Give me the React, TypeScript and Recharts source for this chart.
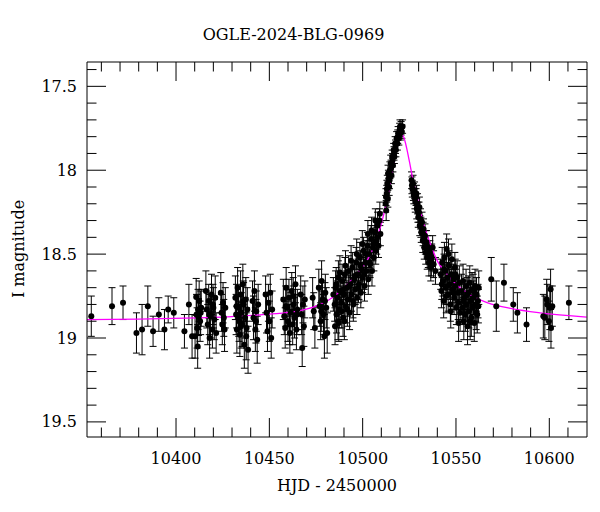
import React from 'react'
import { ComposedChart, Scatter, Line, XAxis, YAxis, ErrorBar } from 'recharts'

const FONT = '"DejaVu Serif", serif'

const hjd = [
  10354.6, 10365.7, 10371.6, 10378.8, 10381.8, 10384.9, 10387.7, 10390.8, 10393.8, 10395.8, 10398.8, 10404.5, 10406.9, 10408.6,
  10410.2, 10410.8, 10411.0, 10411.3, 10411.6, 10412.0, 10412.4, 10412.9, 10413.2, 10413.5,
  10416.0, 10416.5, 10417.0, 10417.5, 10418.0, 10418.5, 10419.0, 10419.5, 10420.0, 10420.5, 10421.0, 10421.5,
  10424.0, 10424.4, 10424.8, 10425.2, 10425.6, 10426.0, 10426.4,
  10431.8, 10432.2, 10432.6, 10433.0, 10433.4, 10433.8, 10434.2, 10434.6, 10435.0, 10435.4, 10435.8, 10436.2, 10436.6, 10437.0, 10437.4, 10437.8, 10438.2, 10438.6,
  10441.0, 10441.5, 10442.0, 10442.5, 10443.0, 10443.5, 10444.0,
  10448.0, 10448.5, 10449.0, 10449.5, 10450.0, 10450.5, 10451.0, 10451.5,
  10457.5, 10458.0, 10458.5, 10459.0, 10459.5, 10460.0, 10460.5, 10461.0, 10461.5, 10462.0, 10462.5, 10463.0, 10463.5, 10464.0, 10464.5, 10465.0,
  10466.8, 10467.3, 10467.6, 10468.0, 10468.5, 10469.0, 10473.2, 10473.8, 10474.4,
  10476.5, 10477.0, 10477.5, 10478.0, 10478.5, 10479.0, 10479.5, 10480.0, 10480.5, 10481.0,
  10485.0, 10485.2, 10485.5, 10486.0, 10486.5, 10487.0, 10487.2, 10487.5, 10488.0, 10488.5,
  10489.0, 10489.5, 10490.0, 10490.2, 10490.5, 10491.0, 10491.5, 10492.0, 10492.5, 10493.0,
  10493.5, 10494.0, 10494.5, 10495.0, 10495.5, 10496.0, 10496.5, 10497.0, 10497.5, 10498.0,
  10498.5, 10499.0, 10499.5, 10500.0, 10500.5, 10501.0, 10501.5, 10502.0, 10502.5, 10503.0,
  10503.5, 10504.0, 10504.5, 10505.0, 10505.5, 10506.0, 10506.5, 10507.0, 10507.5, 10508.0,
  10508.5, 10509.0, 10509.5,
  10512.3, 10512.6, 10512.9, 10513.2, 10513.5, 10513.8, 10514.2, 10514.6, 10515.0, 10515.4,
  10515.8, 10516.2, 10516.6, 10517.0, 10517.4, 10517.8, 10518.2, 10518.6, 10519.0, 10519.4,
  10519.8, 10520.2, 10520.6, 10521.0, 10521.4,
  10526.2, 10526.6, 10527.0, 10527.4, 10527.8, 10528.2, 10528.6, 10529.0, 10529.4, 10529.8,
  10530.2, 10530.6, 10531.0, 10531.4, 10531.8, 10532.2, 10532.6, 10533.0, 10533.4, 10533.8,
  10534.2, 10534.6, 10535.0, 10535.5, 10536.0, 10536.5, 10537.0, 10537.5, 10538.0,
  10541.8, 10542.2, 10542.6, 10543.0, 10543.4, 10543.8, 10544.2, 10544.6, 10545.0, 10545.4,
  10545.8, 10546.2, 10546.6, 10547.0, 10547.4, 10547.8, 10548.2, 10548.6, 10549.0, 10549.4,
  10549.8, 10550.2, 10550.6, 10551.0, 10551.4, 10551.8, 10552.2,
  10553.0, 10553.4, 10553.8, 10554.2, 10554.6, 10555.0, 10555.4, 10555.8, 10556.2, 10556.6, 10557.0, 10557.4,
  10557.8, 10558.2, 10558.6, 10559.0, 10559.4, 10559.8, 10560.2, 10560.6, 10561.0, 10561.4, 10561.8, 10562.2,
  10568.9, 10571.6, 10575.7, 10580.7, 10582.9, 10587.8,
  10596.8, 10597.6, 10598.6, 10598.9, 10599.8, 10600.3, 10600.7, 10600.9, 10601.6, 10610.5,
  // denser parts of the season
  10484.3, 10485.8, 10486.8, 10487.8, 10488.8, 10489.8, 10490.8, 10491.8, 10492.8, 10493.8, 10494.8, 10495.8, 10496.8,
  10497.8, 10498.8, 10499.8, 10500.8, 10501.8, 10502.8, 10503.8, 10504.8, 10505.8, 10506.8, 10507.8, 10509.2,
  10512.5, 10513.0, 10513.6, 10514.4, 10515.2, 10516.0, 10516.8, 10517.6, 10518.8, 10520.0,
  10526.4, 10527.2, 10528.0, 10528.8, 10529.6, 10530.4, 10531.2, 10532.4, 10533.6, 10535.2, 10536.8, 10539.0,
  10542.4, 10543.6, 10544.8, 10546.0, 10547.2, 10548.4, 10549.6, 10551.2, 10554.0, 10556.0, 10557.6, 10559.2, 10560.8, 10562.0,
  10432.4, 10433.6, 10434.8, 10436.0, 10437.6, 10411.8, 10417.8, 10419.8, 10458.8, 10460.8, 10462.8, 10464.8, 10477.8, 10479.8, 10442.8,
]

const mag = [
  18.87, 18.81, 18.79, 18.97, 18.95, 18.81, 18.96, 18.86, 18.95, 18.83, 18.85, 18.96, 18.80, 18.99,
  18.99, 18.755, 18.86, 18.94, 19.05, 18.875, 18.78, 18.90, 18.85, 18.82,
  18.72, 18.83, 18.92, 18.78, 19.00, 18.87, 18.74, 18.95, 18.82, 18.89, 18.76, 18.97,
  18.73, 18.85, 18.92, 18.79, 18.88, 18.95, 18.82,
  18.76, 18.86, 18.95, 18.70, 18.82, 18.90, 18.98, 18.74, 18.85, 18.92, 18.68, 18.80, 19.04, 18.88, 18.77, 18.94, 18.83, 19.07,
  18.78, 18.88, 18.72, 18.95, 18.84, 19.01, 18.80,
  18.74, 18.85, 18.96, 18.79, 18.90, 18.73, 19.00, 18.83,
  18.77, 18.87, 18.94, 18.70, 18.82, 18.90, 18.76, 18.97, 18.85, 18.72, 18.92, 18.80, 18.88, 18.68, 18.95, 18.83,
  18.74, 18.86, 19.06, 18.80, 18.93, 18.77, 18.76, 18.84, 18.94,
  18.70, 18.81, 18.90, 18.66, 18.77, 18.86, 18.99, 18.73, 18.82, 18.97,
  18.80, 18.93, 18.70, 18.86, 18.76, 18.64, 18.91, 18.83, 18.72, 18.79,
  18.66, 18.88, 18.74, 18.90, 18.62, 18.81, 18.70, 18.77, 18.60, 18.85,
  18.68, 18.74, 18.58, 18.80, 18.65, 18.71, 18.55, 18.76, 18.62, 18.68,
  18.52, 18.73, 18.59, 18.64, 18.48, 18.69, 18.55, 18.60, 18.45, 18.65,
  18.50, 18.56, 18.41, 18.60, 18.46, 18.52, 18.37, 18.48, 18.42, 18.33,
  18.45, 18.30, 18.38,
  18.20, 18.24, 18.14, 18.08, 18.17, 18.05, 18.10, 18.00, 17.96, 18.03,
  17.92, 17.97, 17.88, 17.92, 17.84, 17.88, 17.81, 17.84, 17.78, 17.81,
  17.76, 17.78, 17.75, 17.77, 17.74,
  18.06, 18.11, 18.08, 18.15, 18.12, 18.19, 18.16, 18.23, 18.20, 18.28,
  18.25, 18.33, 18.29, 18.37, 18.31, 18.42, 18.35, 18.46, 18.39, 18.49,
  18.43, 18.52, 18.46, 18.55, 18.49, 18.58, 18.52, 18.46, 18.56,
  18.62, 18.72, 18.55, 18.66, 18.78, 18.52, 18.60, 18.70, 18.47, 18.64,
  18.74, 18.57, 18.68, 18.80, 18.62, 18.53, 18.71, 18.65, 18.76, 18.58,
  18.69, 18.82, 18.64, 18.73, 18.91, 18.67, 18.85,
  18.72, 18.82, 18.66, 18.90, 18.76, 18.86, 18.69, 18.80, 18.93, 18.73, 18.84, 18.67,
  18.78, 18.88, 18.71, 18.82, 18.76, 18.91, 18.69, 18.80, 18.74, 18.86, 18.78, 18.70,
  18.65, 18.81, 18.67, 18.80, 18.85, 18.92,
  18.87, 18.88, 18.77, 18.80, 18.90, 18.82, 18.71, 18.94, 18.81, 18.79,
  18.74, 18.68, 18.90, 18.61, 18.84, 18.71, 18.57, 18.83, 18.69, 18.54, 18.78, 18.63, 18.50,
  18.70, 18.57, 18.44, 18.62, 18.50, 18.38, 18.55, 18.36, 18.44, 18.30, 18.40, 18.26,
  18.16, 18.11, 18.02, 18.06, 17.99, 17.94, 17.90, 17.86, 17.80, 17.74,
  18.09, 18.13, 18.17, 18.14, 18.25, 18.22, 18.34, 18.38, 18.43, 18.51, 18.55, 18.60,
  18.68, 18.59, 18.75, 18.50, 18.84, 18.73, 18.62, 18.79, 18.78, 18.74, 18.90, 18.72, 18.85, 18.81,
  18.81, 18.87, 18.93, 18.78, 18.99, 18.83, 18.86, 18.80, 18.81, 18.92, 18.75, 18.86, 18.84, 18.78, 18.90,
]

const magErr = [
  0.12, 0.11, 0.10, 0.12, 0.15, 0.12, 0.09, 0.10, 0.12, 0.08, 0.09, 0.10, 0.12, 0.13,
  0.13, 0.11, 0.12, 0.12, 0.13, 0.11, 0.12, 0.12, 0.13, 0.11,
  0.12, 0.11, 0.12, 0.10, 0.12, 0.13, 0.12, 0.11, 0.12, 0.12, 0.13, 0.12,
  0.12, 0.11, 0.12, 0.12, 0.11, 0.13, 0.12,
  0.13, 0.12, 0.14, 0.12, 0.13, 0.12, 0.13, 0.14, 0.12, 0.13, 0.12, 0.13, 0.14, 0.12, 0.13, 0.12, 0.13, 0.14,
  0.12, 0.13, 0.12, 0.13, 0.12, 0.14, 0.12,
  0.11, 0.12, 0.12, 0.11, 0.12, 0.11, 0.12, 0.11,
  0.12, 0.11, 0.12, 0.12, 0.11, 0.12, 0.11, 0.12, 0.12, 0.11, 0.12, 0.11, 0.12, 0.11, 0.12, 0.12,
  0.11, 0.12, 0.11, 0.11, 0.12, 0.11, 0.12, 0.11, 0.12,
  0.11, 0.12, 0.11, 0.12, 0.11, 0.12, 0.13, 0.11, 0.12, 0.12,
  0.10, 0.11, 0.10, 0.11, 0.10, 0.10, 0.11, 0.11, 0.10, 0.10,
  0.10, 0.11, 0.10, 0.11, 0.10, 0.10, 0.10, 0.10, 0.09, 0.10,
  0.09, 0.10, 0.09, 0.10, 0.09, 0.09, 0.09, 0.10, 0.09, 0.09,
  0.09, 0.09, 0.09, 0.09, 0.08, 0.09, 0.08, 0.09, 0.08, 0.09,
  0.08, 0.08, 0.08, 0.09, 0.08, 0.08, 0.08, 0.08, 0.08, 0.08,
  0.07, 0.07, 0.07,
  0.05, 0.06, 0.05, 0.05, 0.05, 0.05, 0.05, 0.05, 0.05, 0.05,
  0.04, 0.04, 0.04, 0.04, 0.04, 0.04, 0.04, 0.04, 0.04, 0.04,
  0.04, 0.04, 0.04, 0.04, 0.04,
  0.05, 0.05, 0.05, 0.05, 0.05, 0.06, 0.05, 0.06, 0.06, 0.06,
  0.06, 0.06, 0.06, 0.06, 0.06, 0.07, 0.06, 0.07, 0.07, 0.07,
  0.07, 0.07, 0.07, 0.08, 0.07, 0.08, 0.08, 0.07, 0.08,
  0.09, 0.10, 0.09, 0.09, 0.10, 0.09, 0.09, 0.10, 0.09, 0.09,
  0.10, 0.09, 0.09, 0.10, 0.09, 0.09, 0.10, 0.09, 0.10, 0.09,
  0.10, 0.10, 0.10, 0.10, 0.11, 0.10, 0.11,
  0.10, 0.10, 0.10, 0.11, 0.10, 0.10, 0.10, 0.10, 0.11, 0.10, 0.10, 0.10,
  0.10, 0.11, 0.10, 0.10, 0.10, 0.11, 0.10, 0.10, 0.10, 0.11, 0.10, 0.10,
  0.13, 0.15, 0.11, 0.10, 0.12, 0.10,
  0.13, 0.13, 0.12, 0.12, 0.12, 0.13, 0.12, 0.12, 0.12, 0.10,
  0.10, 0.10, 0.11, 0.10, 0.10, 0.10, 0.09, 0.10, 0.09, 0.09, 0.10, 0.09, 0.09,
  0.09, 0.09, 0.08, 0.09, 0.08, 0.08, 0.08, 0.08, 0.08, 0.07, 0.07, 0.07,
  0.05, 0.05, 0.05, 0.05, 0.05, 0.04, 0.04, 0.04, 0.04, 0.04,
  0.05, 0.05, 0.06, 0.05, 0.06, 0.06, 0.06, 0.07, 0.07, 0.07, 0.08, 0.08,
  0.09, 0.09, 0.10, 0.09, 0.10, 0.10, 0.09, 0.10, 0.10, 0.10, 0.11, 0.10, 0.10, 0.10,
  0.13, 0.12, 0.13, 0.12, 0.14, 0.12, 0.12, 0.12, 0.12, 0.12, 0.11, 0.12, 0.12, 0.11, 0.13,
]

// model light curve (magenta)
const modelHjd = [
  10352, 10380, 10405, 10430, 10450, 10465, 10475, 10483, 10490, 10496, 10500, 10504, 10508, 10510,
  10513, 10515, 10516.6, 10518, 10519.3, 10521.1, 10522.5, 10523.8, 10525.6, 10527, 10529.2, 10532.7,
  10536.3, 10540, 10543, 10550, 10558, 10567, 10580, 10595, 10620,
]
const modelMag = [
  18.89, 18.887, 18.882, 18.872, 18.858, 18.84, 18.81, 18.765, 18.7, 18.63, 18.575, 18.505, 18.395, 18.32,
  18.18, 18.06, 17.96, 17.87, 17.81, 17.785, 17.82, 17.88, 17.98, 18.06, 18.16, 18.32,
  18.44, 18.54, 18.59, 18.68, 18.745, 18.79, 18.825, 18.85, 18.875,
]

const xTicks = [
  10360, 10370, 10380, 10390, 10400, 10410, 10420, 10430, 10440, 10450, 10460, 10470, 10480,
  10490, 10500, 10510, 10520, 10530, 10540, 10550, 10560, 10570, 10580, 10590, 10600, 10610,
]
const yTicks = [
  17.4, 17.5, 17.6, 17.7, 17.8, 17.9, 18, 18.1, 18.2, 18.3, 18.4,
  18.5, 18.6, 18.7, 18.8, 18.9, 19, 19.1, 19.2, 19.3, 19.4, 19.5,
]

const points = hjd.map((x, i) => ({ x, y: mag[i], err: magErr[i] }))
const model = modelHjd.map((x, i) => ({ x, y: modelMag[i] }))

const majorX = (v: number) => v % 50 === 0
const majorY = (v: number) => Math.abs(v * 2 - Math.round(v * 2)) < 1e-6
const LONG = 19
const SHORT = 9.5

function BottomTick({ x, y, payload }: any) {
  const big = majorX(payload.value)
  return (
    <g>
      <line x1={x} y1={y} x2={x} y2={y - (big ? LONG : SHORT)} stroke="#000" />
      {big && (
        <text x={x} y={y + 27} textAnchor="middle" fontSize={16} fontFamily={FONT} fill="#000">
          {payload.value}
        </text>
      )}
    </g>
  )
}

function TopTick({ x, y, payload }: any) {
  const big = majorX(payload.value)
  return <line x1={x} y1={y} x2={x} y2={y + (big ? LONG : SHORT)} stroke="#000" />
}

function LeftTick({ x, y, payload }: any) {
  const big = majorY(payload.value)
  return (
    <g>
      <line x1={x} y1={y} x2={x + (big ? LONG : SHORT)} y2={y} stroke="#000" />
      {big && (
        <text x={x - 10} y={y + 5.5} textAnchor="end" fontSize={16} fontFamily={FONT} fill="#000">
          {String(payload.value)}
        </text>
      )}
    </g>
  )
}

function RightTick({ x, y, payload }: any) {
  const big = majorY(payload.value)
  return <line x1={x} y1={y} x2={x - (big ? LONG : SHORT)} y2={y} stroke="#000" />
}

const Dot = (p: any) => <circle cx={p.cx} cy={p.cy} r={3} fill="#000" />

export default function App() {
  const xDomain = [10352.3, 10620.2]
  const yDomain = [17.355, 19.59]
  return (
    <div style={{ position: 'absolute', left: 0, top: 0, width: 600, height: 512, background: '#fff' }}>
      <ComposedChart width={600} height={512} margin={{ top: 61, right: 12, bottom: 74, left: 86 }}>
        <XAxis
          dataKey="x" type="number" domain={xDomain} allowDataOverflow ticks={xTicks} interval={0}
          height={1} tickSize={0} tickMargin={0} tickLine={false} axisLine={{ stroke: '#000' }} tick={BottomTick}
        />
        <XAxis
          xAxisId="top" orientation="top" dataKey="x" type="number" domain={xDomain} allowDataOverflow ticks={xTicks}
          interval={0} height={1} tickSize={0} tickMargin={0} tickLine={false} axisLine={{ stroke: '#000' }} tick={TopTick}
        />
        <YAxis
          dataKey="y" type="number" domain={yDomain} reversed allowDataOverflow ticks={yTicks} interval={0}
          width={1} tickSize={0} tickMargin={0} tickLine={false} axisLine={{ stroke: '#000' }} tick={LeftTick}
        />
        <YAxis
          yAxisId="right" orientation="right" dataKey="y" type="number" domain={yDomain} reversed allowDataOverflow
          ticks={yTicks} interval={0} width={1} tickSize={0} tickMargin={0} tickLine={false}
          axisLine={{ stroke: '#000' }} tick={RightTick}
        />
        <Scatter data={points} shape={Dot} isAnimationActive={false}>
          <ErrorBar dataKey="err" direction="y" width={3.5} stroke="#000" strokeWidth={1} />
        </Scatter>
        <Line
          data={model} dataKey="y" type="monotone" stroke="#ff00ff" strokeWidth={1.3}
          dot={false} activeDot={false} isAnimationActive={false}
        />
      </ComposedChart>
      <svg width={600} height={512} style={{ position: 'absolute', left: 0, top: 0, pointerEvents: 'none' }}>
        <text x={293.5} y={40} textAnchor="middle" fontSize={16} fontFamily={FONT} fill="#000">
          OGLE-2024-BLG-0969
        </text>
        <text x={337} y={491} textAnchor="middle" fontSize={16} fontFamily={FONT} fill="#000">
          HJD - 2450000
        </text>
        <text x={24} y={249} transform="rotate(-90 24 249)" textAnchor="middle" fontSize={16} fontFamily={FONT} fill="#000">
          I magnitude
        </text>
      </svg>
    </div>
  )
}
